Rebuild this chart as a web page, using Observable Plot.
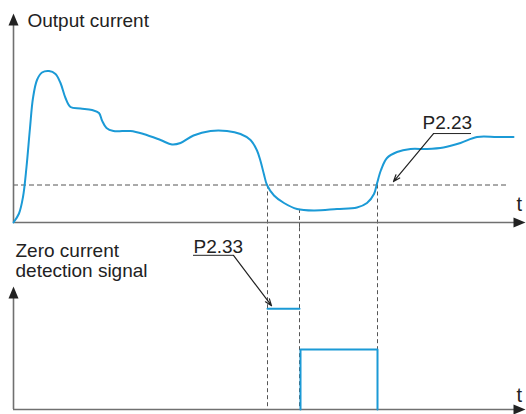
<!DOCTYPE html>
<html>
<head>
<meta charset="utf-8">
<script src="https://cdn.jsdelivr.net/npm/d3@7"></script>
<script src="https://cdn.jsdelivr.net/npm/@observablehq/plot@0.6"></script>
<style>
  html, body { margin: 0; padding: 0; background: #fff; }
  #chart svg { display: block; overflow: visible; }
</style>
</head>
<body>
<div id="chart"></div>
<script>
// ---- data (time in arbitrary units, 0..100) ----
const curveT = [0, 1.1, 1.9, 2.6, 3.3, 3.9, 4.7, 5.7, 7.1, 8.4, 9.4, 10.4, 11.4, 13.4, 15.7, 17.1, 17.7, 18.6, 20, 23.4, 26, 29.4, 31.7, 33.4, 36, 39.4, 42.7, 45.4, 47.4, 48.7, 49.4, 50.1, 50.7, 52.1, 54.1, 56.7, 60.1, 64.7, 68.7, 70.7, 72.1, 72.7, 73.5, 74.7, 76.7, 79.4, 82.7, 86, 89.4, 92.7, 96.7, 100];
const curveI = [0, 6, 17, 37, 63, 83, 95, 100, 101, 99, 93, 83, 77, 76, 75, 73, 68, 63, 61, 61, 59, 55, 52, 53, 58, 61, 61, 59, 55, 48, 41, 32, 25, 18, 13, 9, 8, 9, 10, 13, 19, 26, 35, 43, 47, 49, 49, 50, 53, 57, 57, 57];
const threshold = [25];            // P2.23 level
const crossT = [50.8, 57.2, 72.8]; // times where the dashed guides are drawn
const crossI = [25, 8.7, 25];      // current at those times
const delayT = [50.8, 57.2];       // P2.33 delay segment
const delayLevel = [1.68];
const pulseT = [57.4, 57.4, 72.8, 72.8];
const pulseS = [0, 1, 1, 0];
const labels = {top: "Output current", bottom: "Zero current\ndetection signal", p223: "P2.23", p233: "P2.33", t: "t"};

// ---- styles ----
const blue = "#1b9ad6";
const axisGray = "#707070";
const dashGray = "#555";
const ink = "#222";
const font = "'Liberation Sans', Arial, sans-serif";

const arrowUp = {draw(ctx, size) { const r = Math.sqrt(size / Math.PI); ctx.moveTo(0, -1.2 * r); ctx.lineTo(r, 1.2 * r); ctx.lineTo(-r, 1.2 * r); ctx.closePath(); }};
const arrowRight = {draw(ctx, size) { const r = Math.sqrt(size / Math.PI); ctx.moveTo(1.2 * r, 0); ctx.lineTo(-1.2 * r, r); ctx.lineTo(-1.2 * r, -r); ctx.closePath(); }};

const curve = curveT.map((t, i) => ({t, I: curveI[i]}));
const guides = crossT.map((t, i) => ({t, I: crossI[i]}));
const pulse = pulseT.map((t, i) => ({t, s: pulseS[i]}));
const delay = delayT.map(t => ({t, s: delayLevel[0]}));

const textOpts = {fontSize: 19, fontFamily: font, fill: ink, textAnchor: "start", lineAnchor: "top"};

const topPlot = Plot.plot({
  width: 526, height: 228,
  marginLeft: 13, marginRight: 13, marginTop: 12, marginBottom: 6,
  x: {domain: [0, 100], axis: null},
  y: {domain: [0, 140], axis: null},
  style: {background: "transparent", overflow: "visible"},
  marks: [
    Plot.ruleY(threshold, {x1: 0, x2: 98.8, stroke: dashGray, strokeWidth: 1, strokeDasharray: "5,3"}),
    Plot.ruleX(guides, {x: "t", y1: "I", y2: -4, stroke: dashGray, strokeWidth: 1, strokeDasharray: "4,3"}),
    Plot.ruleY([0], {x1: 0, x2: 101, stroke: axisGray, strokeWidth: 1.6}),
    Plot.ruleX([0], {y1: 0, y2: 134, stroke: axisGray, strokeWidth: 1.6}),
    Plot.dot([{t: 0, I: 135.3}], {x: "t", y: "I", symbol: arrowUp, r: 5, fill: ink, stroke: null}),
    Plot.dot([{t: 101.2, I: 0}], {x: "t", y: "I", symbol: arrowRight, r: 5, fill: ink, stroke: null}),
    Plot.line(curve, {x: "t", y: "I", curve: "catmull-rom", stroke: blue, strokeWidth: 2}),
    Plot.text([labels.top], {x: 2.8, y: 139.3, text: d => d, ...textOpts, letterSpacing: 0.35}),
    Plot.text([labels.t], {x: 100.6, y: 17, text: d => d, ...textOpts, fontSize: 20}),
    Plot.text([labels.p223], {x: 81.8, y: 71.3, text: d => d, ...textOpts}),
    Plot.ruleY([59.3], {x1: 84, x2: 91.6, stroke: ink, strokeWidth: 1}),
    Plot.arrow([{x1: 84, y1: 59.3, x2: 76, y2: 27.3}], {x1: "x1", y1: "y1", x2: "x2", y2: "y2", stroke: ink, strokeWidth: 1.2, headLength: 9, headAngle: 40})
  ]
});

const bottomPlot = Plot.plot({
  width: 526, height: 186,
  marginLeft: 13, marginRight: 13, marginTop: 1, marginBottom: 5,
  x: {domain: [0, 100], axis: null},
  y: {domain: [0, 3], axis: null},
  style: {background: "transparent", overflow: "visible"},
  marks: [
    Plot.ruleX(crossT, {y1: 3.03, y2: 0, stroke: dashGray, strokeWidth: 1, strokeDasharray: "4,3"}),
    Plot.ruleY([0], {x1: 0, x2: 101, stroke: axisGray, strokeWidth: 1.6}),
    Plot.ruleX([0], {y1: 0, y2: 1.9, stroke: axisGray, strokeWidth: 1.6}),
    Plot.dot([{t: 0, s: 1.95}], {x: "t", y: "s", symbol: arrowUp, r: 5, fill: ink, stroke: null}),
    Plot.dot([{t: 101.2, s: 0}], {x: "t", y: "s", symbol: arrowRight, r: 5, fill: ink, stroke: null}),
    Plot.line(delay, {x: "t", y: "s", stroke: blue, strokeWidth: 2}),
    Plot.line(pulse, {x: "t", y: "s", stroke: blue, strokeWidth: 2}),
    Plot.text([labels.bottom], {x: 0.4, y: 2.77, text: d => d, ...textOpts, lineHeight: 1.05}),
    Plot.text([labels.p233], {x: 36, y: 2.83, text: d => d, ...textOpts}),
    Plot.ruleY([2.57], {x1: 36, x2: 44, stroke: ink, strokeWidth: 1}),
    Plot.arrow([{x1: 44, y1: 2.57, x2: 51.6, y2: 1.73}], {x1: "x1", y1: "y1", x2: "x2", y2: "y2", stroke: ink, strokeWidth: 1.2, headLength: 9, headAngle: 40}),
    Plot.text([labels.t], {x: 100.6, y: 0.37, text: d => d, ...textOpts, fontSize: 20})
  ]
});

const chart = document.getElementById("chart");
chart.appendChild(topPlot);
chart.appendChild(bottomPlot);
</script>
</body>
</html>
